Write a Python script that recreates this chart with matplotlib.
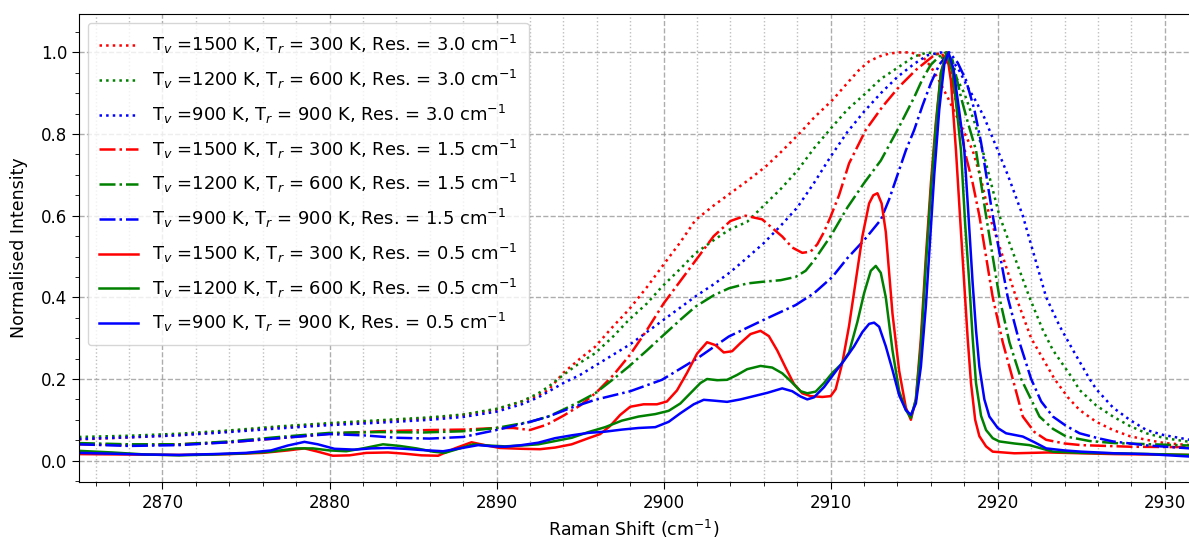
import numpy as np
import matplotlib
matplotlib.use("Agg")
import matplotlib.pyplot as plt
from matplotlib.ticker import MultipleLocator

# --- Res. = 3.0 cm-1 (dotted) ---
x_r30 = [2865, 2868, 2871, 2874, 2877, 2880, 2883, 2886, 2888, 2890, 2891.5, 2892.5, 2893.1, 2894, 2895,
         2895.9, 2897, 2897.9, 2899, 2899.9, 2901, 2901.9, 2903, 2904, 2905, 2906.1, 2907, 2908.1, 2909,
         2910.1, 2911, 2911.7, 2912.3, 2912.9, 2913.5, 2914.1, 2914.8, 2915.5, 2916, 2916.5, 2917, 2917.7,
         2918.5, 2919, 2919.5, 2920.3, 2921.1, 2922, 2922.7, 2923.4, 2924.2, 2924.9, 2925.9, 2926.9, 2927.9,
         2928.9, 2930, 2931.5]
y_r30 = [0.052, 0.057, 0.063, 0.072, 0.082, 0.090, 0.097, 0.104, 0.112, 0.125, 0.145, 0.160, 0.173, 0.215, 0.250,
         0.279, 0.330, 0.369, 0.425, 0.475, 0.535, 0.589, 0.625, 0.655, 0.685, 0.720, 0.755, 0.800, 0.840,
         0.883, 0.925, 0.957, 0.978, 0.990, 0.997, 1.000, 1.000, 0.990, 0.965, 0.930, 0.890, 0.830,
         0.760, 0.690, 0.600, 0.500, 0.400, 0.300, 0.250, 0.200, 0.155, 0.124, 0.095, 0.075, 0.060,
         0.051, 0.043, 0.038]

x_g30 = [2865, 2868, 2871, 2874, 2877, 2880, 2883, 2886, 2888, 2890, 2891.5, 2892.5, 2893.1, 2894, 2895,
         2895.9, 2897, 2897.9, 2899, 2899.9, 2901, 2901.9, 2903, 2903.9, 2905, 2906, 2907, 2908, 2909,
         2910.1, 2911, 2912.1, 2913, 2914.1, 2915, 2915.8, 2916.4, 2916.9, 2917.5, 2918, 2918.6, 2919.1,
         2920.1, 2921, 2921.9, 2922.7, 2923.3, 2924.5, 2924.9, 2925.9, 2926.9, 2927.9, 2928.9, 2930, 2931.5]
y_g30 = [0.058, 0.061, 0.066, 0.074, 0.084, 0.092, 0.099, 0.106, 0.113, 0.127, 0.145, 0.165, 0.181, 0.210, 0.240,
         0.263, 0.305, 0.344, 0.385, 0.426, 0.470, 0.508, 0.540, 0.565, 0.585, 0.625, 0.665, 0.710, 0.765,
         0.818, 0.860, 0.900, 0.935, 0.965, 0.990, 1.000, 0.995, 0.980, 0.940, 0.900, 0.830, 0.760,
         0.600, 0.500, 0.400, 0.320, 0.271, 0.200, 0.173, 0.135, 0.108, 0.085, 0.067, 0.055, 0.046]

x_b30 = [2865, 2868, 2871, 2874, 2877, 2880, 2883, 2886, 2888, 2890, 2891.5, 2892.5, 2893.1, 2894, 2895,
         2896, 2897, 2898, 2899, 2900, 2901, 2902, 2903, 2904, 2905, 2906, 2907, 2908, 2909, 2910, 2911,
         2912, 2913, 2914, 2915, 2915.8, 2916.6, 2917.2, 2917.7, 2918.2, 2918.7, 2919.2, 2919.7, 2920.6,
         2921.5, 2922.2, 2922.9, 2923.7, 2924.5, 2925.5, 2925.9, 2926.9, 2927.9, 2928.9, 2929.9, 2931.5]
y_b30 = [0.053, 0.057, 0.062, 0.070, 0.079, 0.087, 0.093, 0.100, 0.107, 0.120, 0.138, 0.155, 0.169, 0.190, 0.210,
         0.235, 0.260, 0.285, 0.315, 0.345, 0.375, 0.405, 0.432, 0.462, 0.497, 0.533, 0.575, 0.620, 0.680, 0.745, 0.805,
         0.855, 0.900, 0.940, 0.972, 0.993, 1.000, 0.985, 0.955, 0.915, 0.880, 0.840, 0.790, 0.700,
         0.600, 0.500, 0.400, 0.330, 0.271, 0.200, 0.175, 0.130, 0.100, 0.075, 0.063, 0.051]

# --- Res. = 1.5 cm-1 (dash-dot) ---
x_r15 = [2865, 2868, 2871, 2874, 2877, 2880, 2883, 2886, 2888, 2890, 2891, 2892, 2893, 2894, 2895, 2896,
         2897, 2898, 2899, 2900, 2901, 2902, 2903, 2904, 2904.9, 2905.9, 2906.5, 2907.1, 2907.7, 2908.3,
         2908.8, 2909.2, 2909.6, 2910, 2910.5, 2911.1, 2912.1, 2913.1, 2914.1, 2915.1, 2916.1, 2916.6,
         2917.1, 2917.5, 2918.1, 2918.5, 2918.9, 2919.3, 2919.7, 2920.3, 2920.9, 2921.5, 2922.2, 2922.9,
         2924, 2925, 2928, 2931.5]
y_r15 = [0.040, 0.038, 0.040, 0.045, 0.055, 0.066, 0.072, 0.075, 0.076, 0.080, 0.080, 0.075, 0.088, 0.110, 0.135, 0.168,
         0.210, 0.260, 0.320, 0.385, 0.440, 0.495, 0.550, 0.587, 0.600, 0.591, 0.570, 0.549, 0.522, 0.509,
         0.512, 0.530, 0.560, 0.598, 0.650, 0.728, 0.810, 0.867, 0.916, 0.957, 0.990, 1.000,
         0.970, 0.880, 0.745, 0.680, 0.600, 0.500, 0.400, 0.290, 0.200, 0.108, 0.070, 0.051,
         0.042, 0.038, 0.034, 0.033]

x_g15 = [2865, 2868, 2871, 2874, 2877, 2880, 2883, 2885.6, 2888, 2890, 2892, 2893.1, 2894, 2895, 2895.9,
         2897, 2897.9, 2899, 2899.9, 2901, 2901.9, 2903, 2903.9, 2905, 2905.9, 2907, 2907.9, 2908.5, 2909,
         2909.5, 2910, 2910.5, 2911, 2912, 2913, 2914, 2914.5, 2915, 2915.5, 2916, 2916.5, 2916.9, 2917.3,
         2917.8, 2918.2, 2918.7, 2919.3, 2920.1, 2920.7, 2921.4, 2922.5, 2923.3, 2924.1, 2925.5, 2927, 2931.5]
y_g15 = [0.043, 0.040, 0.040, 0.047, 0.058, 0.068, 0.070, 0.069, 0.072, 0.080, 0.095, 0.108, 0.125, 0.145, 0.165,
         0.200, 0.230, 0.270, 0.304, 0.345, 0.377, 0.405, 0.422, 0.434, 0.438, 0.442, 0.450, 0.465, 0.490,
         0.520, 0.550, 0.585, 0.620, 0.680, 0.735, 0.810, 0.850, 0.890, 0.935, 0.970, 0.990, 1.000, 0.980,
         0.890, 0.830, 0.760, 0.600, 0.400, 0.290, 0.200, 0.108, 0.078, 0.059, 0.048, 0.043, 0.037]

x_b15 = [2865, 2868, 2871, 2874, 2877, 2880, 2882, 2884, 2886, 2888, 2890, 2892, 2893.1, 2894.5, 2895.9,
         2898, 2899.9, 2902, 2903.9, 2906, 2907.9, 2909, 2910.1, 2911, 2912, 2913, 2913.5, 2914, 2914.5,
         2915, 2915.5, 2916, 2916.5, 2917.1, 2917.6, 2918.1, 2918.6, 2919, 2919.7, 2920.15, 2920.6, 2921.3,
         2922, 2922.6, 2923.3, 2924.1, 2924.9, 2926, 2926.9, 2929, 2931.5]
y_b15 = [0.040, 0.036, 0.038, 0.045, 0.055, 0.065, 0.062, 0.056, 0.054, 0.058, 0.075, 0.095, 0.108, 0.130, 0.149,
         0.170, 0.198, 0.250, 0.304, 0.345, 0.381, 0.410, 0.450, 0.496, 0.540, 0.590, 0.640, 0.700, 0.760,
         0.810, 0.870, 0.925, 0.970, 1.000, 0.975, 0.932, 0.860, 0.780, 0.600, 0.500, 0.400, 0.290,
         0.200, 0.145, 0.108, 0.085, 0.067, 0.055, 0.047, 0.037, 0.030]

# --- Res. = 0.5 cm-1 (solid) ---
x_r05 = [2865, 2868, 2871, 2874, 2876, 2877.5, 2878.5, 2879.3, 2880.2, 2881.2, 2882.2, 2883.5, 2884.5, 2885.5,
         2886.5, 2887.5, 2888.5, 2889.3, 2890.2, 2891.5, 2892.6, 2893.5, 2894.5, 2895.5, 2896.2, 2896.8, 2897.4,
         2898, 2898.8, 2899.6, 2900.2, 2900.8, 2901.4, 2902, 2902.6, 2903.1, 2903.6, 2904.1, 2904.6, 2905.2,
         2905.8, 2906.3, 2906.8, 2907.3, 2907.8, 2908.3, 2908.8, 2909.5, 2910, 2910.3, 2910.7, 2911.1, 2911.5,
         2911.9, 2912.3, 2912.55, 2912.8, 2913.05, 2913.3, 2913.7, 2914.1, 2914.5, 2914.8, 2915.1, 2915.4,
         2915.7, 2916, 2916.3, 2916.6, 2916.95, 2917.2, 2917.5, 2917.8, 2918, 2918.2, 2918.4, 2918.65, 2918.9,
         2919.3, 2919.7, 2921, 2923, 2925, 2927, 2931.5]
y_r05 = [0.016, 0.015, 0.014, 0.016, 0.019, 0.025, 0.030, 0.022, 0.012, 0.013, 0.019, 0.020, 0.017, 0.013,
         0.012, 0.030, 0.045, 0.038, 0.031, 0.029, 0.028, 0.032, 0.040, 0.055, 0.065, 0.085, 0.112,
         0.132, 0.138, 0.138, 0.145, 0.172, 0.215, 0.262, 0.290, 0.283, 0.265, 0.268, 0.288, 0.310,
         0.318, 0.305, 0.270, 0.228, 0.188, 0.165, 0.158, 0.156, 0.158, 0.175, 0.240, 0.330, 0.440,
         0.550, 0.630, 0.650, 0.655, 0.630, 0.560, 0.360, 0.220, 0.130, 0.100, 0.150, 0.300,
         0.500, 0.680, 0.830, 0.950, 1.000, 0.930, 0.760, 0.560, 0.430, 0.300, 0.190, 0.100, 0.060,
         0.035, 0.022, 0.018, 0.020, 0.018, 0.016, 0.014]

x_g05 = [2865, 2867, 2869, 2871, 2873, 2875, 2876.5, 2878, 2879, 2880, 2881, 2882, 2883.2, 2884.2, 2885.2,
         2886.2, 2886.9, 2887.8, 2888.6, 2889.5, 2890.5, 2891.5, 2892.5, 2893.5, 2894.5, 2895.5, 2896.5, 2897.5,
         2898.5, 2899.5, 2900.3, 2901, 2901.6, 2902.2, 2902.6, 2903.2, 2903.8, 2904.4, 2905, 2905.8, 2906.5,
         2907.1, 2907.6, 2908.2, 2908.6, 2909.1, 2909.6, 2910.1, 2910.6, 2911.1, 2911.6, 2912, 2912.4, 2912.7,
         2913, 2913.3, 2913.7, 2914.1, 2914.5, 2914.8, 2915.1, 2915.4, 2915.7, 2916, 2916.3, 2916.6, 2916.95,
         2917.3, 2917.55, 2917.8, 2918.05, 2918.3, 2918.5, 2918.7, 2919, 2919.3, 2919.7, 2920.1, 2921, 2921.9,
         2922.6, 2923.3, 2925, 2927, 2931.5]
y_g05 = [0.024, 0.020, 0.015, 0.013, 0.015, 0.018, 0.022, 0.030, 0.030, 0.025, 0.023, 0.030, 0.040, 0.036, 0.030,
         0.022, 0.019, 0.030, 0.040, 0.037, 0.035, 0.037, 0.040, 0.048, 0.056, 0.070, 0.082, 0.098,
         0.108, 0.114, 0.122, 0.140, 0.165, 0.190, 0.200, 0.197, 0.198, 0.210, 0.224, 0.232, 0.228,
         0.214, 0.195, 0.170, 0.165, 0.169, 0.190, 0.215, 0.235, 0.265, 0.340, 0.410, 0.465, 0.477,
         0.460, 0.400, 0.270, 0.170, 0.124, 0.105, 0.150, 0.280, 0.480, 0.660, 0.820, 0.950, 1.000,
         0.950, 0.860, 0.760, 0.580, 0.434, 0.300, 0.190, 0.110, 0.075, 0.055, 0.047, 0.042, 0.038,
         0.030, 0.022, 0.019, 0.018, 0.014]

x_b05 = [2865, 2867, 2869, 2871, 2873, 2875, 2876.5, 2877.5, 2878.5, 2879.3, 2880.3, 2881.5, 2882.5, 2883.5,
         2884.5, 2885.5, 2886.8, 2887.8, 2888.9, 2889.8, 2890.5, 2891.5, 2892.5, 2893.5, 2894.5, 2895.5, 2896.5,
         2897.5, 2898.5, 2899.5, 2900.3, 2901, 2901.8, 2902.4, 2903, 2903.8, 2904.6, 2905.4, 2906.2, 2907.1,
         2907.7, 2908.2, 2908.6, 2909, 2909.6, 2910.2, 2910.8, 2911.4, 2911.9, 2912.3, 2912.6, 2912.9, 2913.3,
         2913.7, 2914.1, 2914.5, 2914.8, 2915.1, 2915.4, 2915.7, 2915.95, 2916.2, 2916.5, 2916.8, 2917.05,
         2917.35, 2917.65, 2918, 2918.25, 2918.5, 2918.7, 2918.9, 2919.2, 2919.5, 2920, 2920.5, 2921, 2921.5,
         2922.2, 2922.9, 2924, 2925, 2927, 2929, 2931.5]
y_b05 = [0.019, 0.017, 0.015, 0.014, 0.016, 0.019, 0.025, 0.037, 0.046, 0.040, 0.029, 0.027, 0.030, 0.031,
         0.029, 0.026, 0.023, 0.030, 0.038, 0.035, 0.034, 0.038, 0.044, 0.055, 0.062, 0.068, 0.071,
         0.076, 0.080, 0.082, 0.095, 0.116, 0.138, 0.149, 0.147, 0.144, 0.150, 0.158, 0.166, 0.177,
         0.170, 0.157, 0.150, 0.155, 0.180, 0.213, 0.245, 0.280, 0.315, 0.335, 0.338, 0.328, 0.280,
         0.222, 0.160, 0.124, 0.112, 0.140, 0.230, 0.380, 0.540, 0.700, 0.860, 0.970, 1.000,
         0.960, 0.870, 0.760, 0.600, 0.434, 0.320, 0.230, 0.150, 0.108, 0.080, 0.067, 0.063, 0.059,
         0.045, 0.030, 0.025, 0.022, 0.018, 0.016, 0.010]

labels = [r'T$_v$ =1500 K, T$_r$ = 300 K, Res. = 3.0 cm$^{-1}$',
          r'T$_v$ =1200 K, T$_r$ = 600 K, Res. = 3.0 cm$^{-1}$',
          r'T$_v$ =900 K, T$_r$ = 900 K, Res. = 3.0 cm$^{-1}$',
          r'T$_v$ =1500 K, T$_r$ = 300 K, Res. = 1.5 cm$^{-1}$',
          r'T$_v$ =1200 K, T$_r$ = 600 K, Res. = 1.5 cm$^{-1}$',
          r'T$_v$ =900 K, T$_r$ = 900 K, Res. = 1.5 cm$^{-1}$',
          r'T$_v$ =1500 K, T$_r$ = 300 K, Res. = 0.5 cm$^{-1}$',
          r'T$_v$ =1200 K, T$_r$ = 600 K, Res. = 0.5 cm$^{-1}$',
          r'T$_v$ =900 K, T$_r$ = 900 K, Res. = 0.5 cm$^{-1}$']

series = [(x_r30, y_r30), (x_g30, y_g30), (x_b30, y_b30),
          (x_r15, y_r15), (x_g15, y_g15), (x_b15, y_b15),
          (x_r05, y_r05), (x_g05, y_g05), (x_b05, y_b05)]
colors = ['r', 'g', 'b'] * 3
styles = [':'] * 3 + ['-.'] * 3 + ['-'] * 3

fig = plt.figure(figsize=(11.89, 5.40), dpi=100)
ax = fig.add_axes([0.0664, 0.1069, 0.9336, 0.8679])

for (xs, ys), c, ls, lab in zip(series, colors, styles, labels):
    ax.plot(xs, ys, color=c, linestyle=ls, linewidth=1.8, label=lab)

ax.set_xlim(2865, 2931.45)
ax.set_ylim(-0.053, 1.095)
ax.xaxis.set_major_locator(MultipleLocator(10))
ax.xaxis.set_minor_locator(MultipleLocator(2))
ax.yaxis.set_major_locator(MultipleLocator(0.2))
ax.yaxis.set_minor_locator(MultipleLocator(0.05))
ax.tick_params(which='major', labelsize=12, length=5)
ax.tick_params(which='minor', length=3)
ax.grid(which='major', linestyle='--', color='0.6', linewidth=1.0, alpha=0.8)
ax.grid(which='minor', axis='x', linestyle=':', color='0.75', linewidth=1.0)
ax.spines['right'].set_visible(False)

ax.set_xlabel(r'Raman Shift (cm$^{-1}$)', fontsize=12.5)
ax.set_ylabel('Normalised Intensity', fontsize=12.5, labelpad=9)
ax.legend(loc='upper left', fontsize=12.9, labelspacing=0.65, borderpad=0.6,
          handlelength=2.2, handletextpad=0.8)

fig.savefig('out.png', dpi=100)
